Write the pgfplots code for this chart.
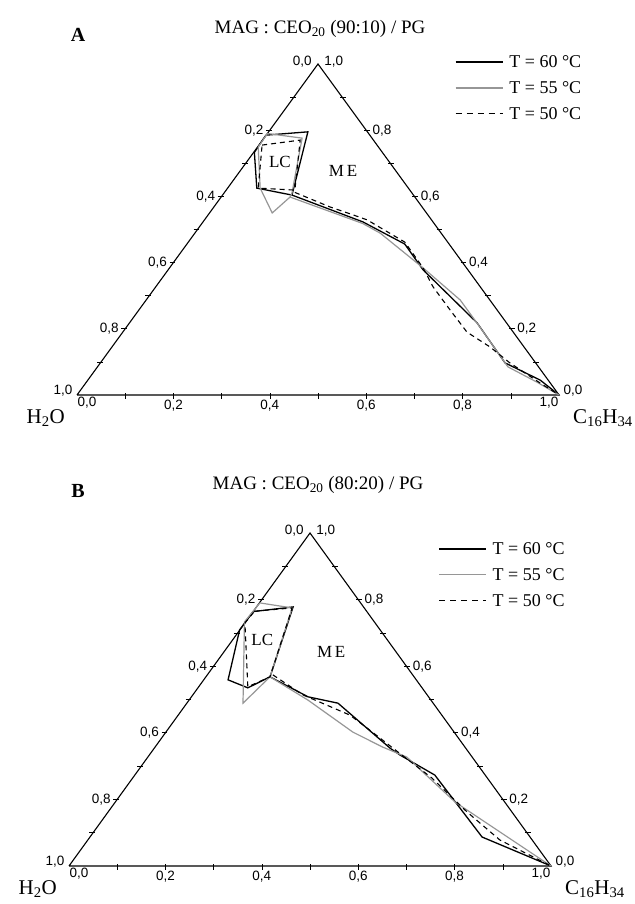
\documentclass[border=0pt]{standalone}
\usepackage{fontspec}
\setmainfont{Liberation Serif}
\newfontfamily\ticksf{Liberation Sans}
\usepackage{pgfplots}
\pgfplotsset{compat=1.18}
\definecolor{lgrey}{RGB}{150,150,150}
\newcommand\fs[1]{\fontsize{#1}{#1}\selectfont}

\tikzset{
  t60/.style={black, line width=1.3pt},
  t55/.style={lgrey, line width=1.2pt},
  t50/.style={black, line width=1.1pt, dash pattern=on 5pt off 4pt},
  tk/.style={font=\ticksf\fs{13.5}, inner sep=0.5pt},
}
\pgfplotsset{
  tern/.style={scale only axis, xmin=0, xmax=1, ymin=0, ymax=1,
    axis lines=none, clip=false, unbounded coords=jump,
    legend cell align=left,
    legend image code/.code={\draw[##1] (0pt,0pt) -- (47pt,0pt);},
    legend style={draw=none, fill=none, anchor=north west, inner sep=0pt,
      font=\fs{18}, row sep=10.5pt, nodes={inner sep=1pt},
      /tikz/every odd column/.style={column sep=5pt}},
  },
}

\newcommand\ternframe{%
  \addplot[forget plot, black, line width=1.1pt] coordinates {(0,0) (1,0) (0.5,1) (0,0)};
  \addplot[forget plot, black, line width=0.6pt] coordinates {
    (0.042,0.1)(0.054,0.1)(nan,nan)(0.092,0.2)(0.104,0.2)(nan,nan)
    (0.142,0.3)(0.154,0.3)(nan,nan)(0.192,0.4)(0.204,0.4)(nan,nan)
    (0.242,0.5)(0.254,0.5)(nan,nan)(0.292,0.6)(0.304,0.6)(nan,nan)
    (0.342,0.7)(0.354,0.7)(nan,nan)(0.392,0.8)(0.404,0.8)(nan,nan)
    (0.442,0.9)(0.454,0.9)(nan,nan)
    (0.946,0.1)(0.958,0.1)(nan,nan)(0.896,0.2)(0.908,0.2)(nan,nan)
    (0.846,0.3)(0.858,0.3)(nan,nan)(0.796,0.4)(0.808,0.4)(nan,nan)
    (0.746,0.5)(0.758,0.5)(nan,nan)(0.696,0.6)(0.708,0.6)(nan,nan)
    (0.646,0.7)(0.658,0.7)(nan,nan)(0.596,0.8)(0.608,0.8)(nan,nan)
    (0.546,0.9)(0.558,0.9)(nan,nan)
    (0.1,-0.012)(0.1,0.006)(nan,nan)(0.2,-0.012)(0.2,0.006)(nan,nan)
    (0.3,-0.012)(0.3,0.006)(nan,nan)(0.4,-0.012)(0.4,0.006)(nan,nan)
    (0.5,-0.012)(0.5,0.006)(nan,nan)(0.6,-0.012)(0.6,0.006)(nan,nan)
    (0.7,-0.012)(0.7,0.006)(nan,nan)(0.8,-0.012)(0.8,0.006)(nan,nan)
    (0.9,-0.012)(0.9,0.006)};
  % bottom labels
  \node[tk,anchor=north west,yshift=-1pt] at (axis cs:0,0) {0,0};
  \node[tk,anchor=north,yshift=-4pt] at (axis cs:0.2,0) {0,2};
  \node[tk,anchor=north,yshift=-4pt] at (axis cs:0.4,0) {0,4};
  \node[tk,anchor=north,yshift=-4pt] at (axis cs:0.6,0) {0,6};
  \node[tk,anchor=north,yshift=-4pt] at (axis cs:0.8,0) {0,8};
  \node[tk,anchor=north east,yshift=-1pt] at (axis cs:1,0) {1,0};
  % left side labels
  \node[tk,anchor=east] at (axis cs:-0.008,0.012) {1,0};
  \node[tk,anchor=east] at (axis cs:0.088,0.2) {0,8};
  \node[tk,anchor=east] at (axis cs:0.188,0.4) {0,6};
  \node[tk,anchor=east] at (axis cs:0.288,0.6) {0,4};
  \node[tk,anchor=east] at (axis cs:0.388,0.8) {0,2};
  \node[tk,anchor=east,yshift=2pt] at (axis cs:0.488,1) {0,0};
  % right side labels
  \node[tk,anchor=west] at (axis cs:1.008,0.012) {0,0};
  \node[tk,anchor=west] at (axis cs:0.912,0.2) {0,2};
  \node[tk,anchor=west] at (axis cs:0.812,0.4) {0,4};
  \node[tk,anchor=west] at (axis cs:0.712,0.6) {0,6};
  \node[tk,anchor=west] at (axis cs:0.612,0.8) {0,8};
  \node[tk,anchor=west,yshift=2pt] at (axis cs:0.512,1) {1,0};
  % corner names
  \node[anchor=north east,inner sep=0pt,font=\fs{21},xshift=-12pt,yshift=-14pt] at (axis cs:0,0) {H\textsubscript{2}O};
  \node[anchor=north west,inner sep=0pt,font=\fs{21},xshift=14pt,yshift=-14pt] at (axis cs:1,0) {C\textsubscript{16}H\textsubscript{34}};
  % legend
  \addlegendimage{t60}\addlegendentry{T = 60 °C}
  \addlegendimage{t55}\addlegendentry{T = 55 °C}
  \addlegendimage{t50, dash pattern=on 6pt off 5pt}\addlegendentry{T = 50 °C}
}

\begin{document}
\begin{tikzpicture}
\path[use as bounding box] (0,0) rectangle (634pt,904pt);

% ---------- Panel A ----------
\node[anchor=base,font=\bfseries\fs{20}] at (78pt,862pt) {A};
\node[anchor=base,font=\fs{19}] at (320pt,870pt) {MAG : CEO\textsubscript{20} (90:10) / PG};
\begin{axis}[tern, at={(77pt,509pt)}, anchor=south west, width=482pt, height=331pt,
  legend style={at={(0.784,1.030)}}]
  \ternframe
  \node[font=\fs{17}] at (axis cs:0.421,0.705) {LC};
  \node[font=\fs{17}] at (axis cs:0.552,0.678) {M\,E};
  % T = 60 C
  \addplot[t60, forget plot] coordinates {(0.392,0.785) (0.479,0.795) (0.446,0.604) (0.373,0.625) (0.368,0.733) (0.392,0.785)};
  \addplot[t60, forget plot] coordinates {(0.446,0.604) (0.593,0.523) (0.680,0.456) (0.718,0.378) (0.830,0.218) (0.888,0.097) (0.961,0.045) (1,0)};
  % T = 55 C
  \addplot[t55, forget plot] coordinates {(0.395,0.790) (0.467,0.776) (0.446,0.610) (0.442,0.598) (0.405,0.550) (0.380,0.625) (0.376,0.749) (0.395,0.790)};
  \addplot[t55, forget plot] coordinates {(0.442,0.598) (0.593,0.518) (0.629,0.489) (0.718,0.384) (0.795,0.287) (0.836,0.205) (0.894,0.085) (0.954,0.039) (1,0)};
  % T = 50 C
  \addplot[t50, forget plot] coordinates {(0.384,0.755) (0.463,0.770) (0.452,0.619) (0.376,0.625) (0.384,0.755)};
  \addplot[t50, forget plot] coordinates {(0.452,0.612) (0.525,0.568) (0.573,0.544) (0.602,0.529) (0.680,0.462) (0.718,0.384) (0.739,0.326) (0.774,0.257) (0.809,0.190) (0.857,0.145) (0.898,0.097) (0.961,0.036) (1,0)};
\end{axis}

% ---------- Panel B ----------
\node[anchor=base,font=\bfseries\fs{20}] at (78pt,406pt) {B};
\node[anchor=base,font=\fs{19}] at (318pt,414pt) {MAG : CEO\textsubscript{20} (80:20) / PG};
\begin{axis}[tern, at={(69pt,38pt)}, anchor=south west, width=482pt, height=333pt,
  legend style={at={(0.766,0.976)}}]
  \ternframe
  \node[font=\fs{17}] at (axis cs:0.401,0.679) {LC};
  \node[font=\fs{17}] at (axis cs:0.544,0.643) {M\,E};
  % T = 60 C
  \addplot[t60, forget plot] coordinates {(0.382,0.764) (0.465,0.778) (0.417,0.568) (0.371,0.535) (0.330,0.559) (0.354,0.709) (0.382,0.764)};
  \addplot[t60, forget plot] coordinates {(0.417,0.568) (0.496,0.508) (0.558,0.489) (0.666,0.354) (0.687,0.333) (0.759,0.273) (0.857,0.087) (1,0)};
  % T = 55 C
  \addplot[t55, forget plot] coordinates {(0.396,0.790) (0.463,0.775) (0.417,0.568) (0.361,0.489) (0.364,0.733) (0.396,0.790)};
  \addplot[t55, forget plot] coordinates {(0.417,0.568) (0.496,0.498) (0.589,0.402) (0.651,0.357) (0.701,0.327) (0.801,0.192) (1,0)};
  % T = 50 C
  \addplot[t50, forget plot] coordinates {(0.385,0.765) (0.463,0.775) (0.417,0.568) (0.371,0.538) (0.365,0.730) (0.385,0.765)};
  \addplot[t50, forget plot] coordinates {(0.423,0.574) (0.485,0.514) (0.535,0.483) (0.583,0.453) (0.624,0.408) (0.672,0.354) (0.753,0.264) (0.826,0.162) (0.894,0.078) (1,0)};
\end{axis}
\end{tikzpicture}
\end{document}
